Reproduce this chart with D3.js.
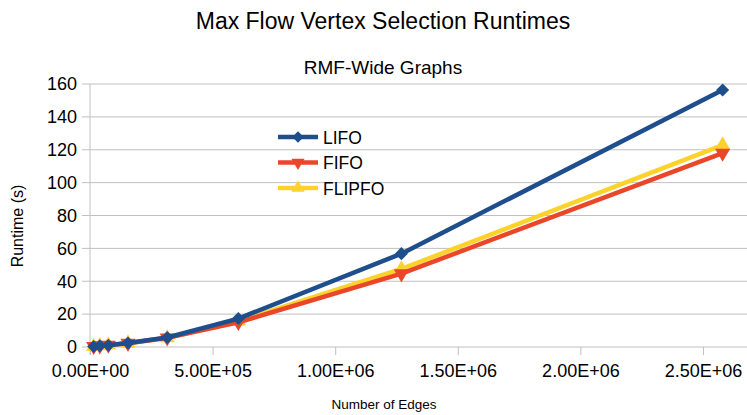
<!DOCTYPE html>
<meta charset="utf-8">
<script src="https://d3js.org/d3.v7.min.js"></script>
<style>
  body { margin: 0; background: #fff; }
  svg text { font-family: "Liberation Sans", Arial, sans-serif; fill: #000; }
</style>
<div id="my_dataviz"></div>
<script>
  // data
  var edges  = [15000, 40000, 75000, 155000, 315000, 605000, 1270000, 2580000];
  var lifo   = [0.3, 0.7, 1.1, 2.4, 5.8, 17.3, 56.8, 156.3];
  var fifo   = [0.4, 0.8, 1.2, 2.3, 5.6, 15.0, 44.6, 118.0];
  var flipfo = [0.3, 0.7, 1.1, 2.2, 5.5, 15.8, 47.5, 122.8];
  var seriesNames = ["LIFO", "FIFO", "FLIPFO"];
  var xTicks = [0, 500000, 1000000, 1500000, 2000000, 2500000];
  var yTicks = [0, 20, 40, 60, 80, 100, 120, 140, 160];

  var W = 747, H = 415;
  var svg = d3.select("#my_dataviz").append("svg")
    .attr("width", W).attr("height", H);

  var x = d3.scaleLinear().domain([0, 2500000]).range([90, 703]);
  var y = d3.scaleLinear().domain([0, 160]).range([347, 84]);

  // titles
  svg.append("text").attr("x", 383).attr("y", 29).attr("text-anchor", "middle")
    .style("font-size", "23px").text("Max Flow Vertex Selection Runtimes");
  svg.append("text").attr("x", 383).attr("y", 74).attr("text-anchor", "middle")
    .style("font-size", "19px").text("RMF-Wide Graphs");

  // gridlines
  svg.append("g").selectAll("line").data(yTicks).enter().append("line")
    .attr("x1", 82).attr("x2", W)
    .attr("y1", d => y(d)).attr("y2", d => y(d))
    .style("stroke", "#c0c0c0").style("stroke-width", 1);

  // y axis
  var yAxis = svg.append("g").attr("transform", "translate(90,0)")
    .call(d3.axisLeft(y).tickValues(yTicks).tickSize(0).tickPadding(13));
  yAxis.select(".domain").attr("d", "M0," + y(160) + "V" + (y(0) + 8)).style("stroke", "#c0c0c0");
  yAxis.selectAll("text").style("font-size", "18px");

  // x axis
  var xAxis = svg.append("g").attr("transform", "translate(0," + y(0) + ")")
    .call(d3.axisBottom(x).tickValues(xTicks).tickSize(8).tickPadding(9)
      .tickFormat(d => d3.format(".2e")(d).replace("e", "E").replace(/E([+-])(\d)$/, "E$10$2")));
  xAxis.select(".domain").remove();
  xAxis.selectAll(".tick line").style("stroke", "#c0c0c0");
  xAxis.selectAll("text").style("font-size", "18px");

  // axis titles
  svg.append("text").attr("transform", "translate(23,226) rotate(-90)")
    .attr("text-anchor", "middle").style("font-size", "16px").text("Runtime (s)");
  svg.append("text").attr("x", 384).attr("y", 409).attr("text-anchor", "middle")
    .style("font-size", "13.5px").text("Number of Edges");

  var colors = ["#1f4e8c", "#e9462a", "#fdd22a"];
  var symbols = [d3.symbolSquare, d3.symbolTriangle, d3.symbolTriangle];
  var rot = [45, 180, 0];
  var sets = [lifo, fifo, flipfo];

  var line = d3.line().x((d, i) => x(edges[i])).y(d => y(d));

  // draw FLIPFO first, then FIFO, then LIFO on top
  [2, 1, 0].forEach(function (s) {
    svg.append("path").datum(sets[s])
      .attr("d", line).attr("fill", "none")
      .style("stroke", colors[s]).style("stroke-width", 4.5)
      .style("stroke-linejoin", "round");
    svg.append("g").selectAll("path").data(sets[s]).enter().append("path")
      .attr("d", d3.symbol().type(symbols[s]).size(s == 0 ? 85 : 100))
      .attr("transform", (d, i) => "translate(" + x(edges[i]) + "," + y(d) + ") rotate(" + rot[s] + ")")
      .style("fill", colors[s]);
  });

  // legend
  var legend = svg.append("g");
  seriesNames.forEach(function (name, s) {
    var ly = 137 + s * 25.5;
    legend.append("line").attr("x1", 278).attr("x2", 318).attr("y1", ly).attr("y2", ly)
      .style("stroke", colors[s]).style("stroke-width", 4.5);
    legend.append("path")
      .attr("d", d3.symbol().type(symbols[s]).size(s == 0 ? 65 : 75))
      .attr("transform", "translate(298," + ly + ") rotate(" + rot[s] + ")")
      .style("fill", colors[s]);
    legend.append("text").attr("x", 323).attr("y", ly + 6.5)
      .style("font-size", "17.5px").text(name);
  });
</script>
